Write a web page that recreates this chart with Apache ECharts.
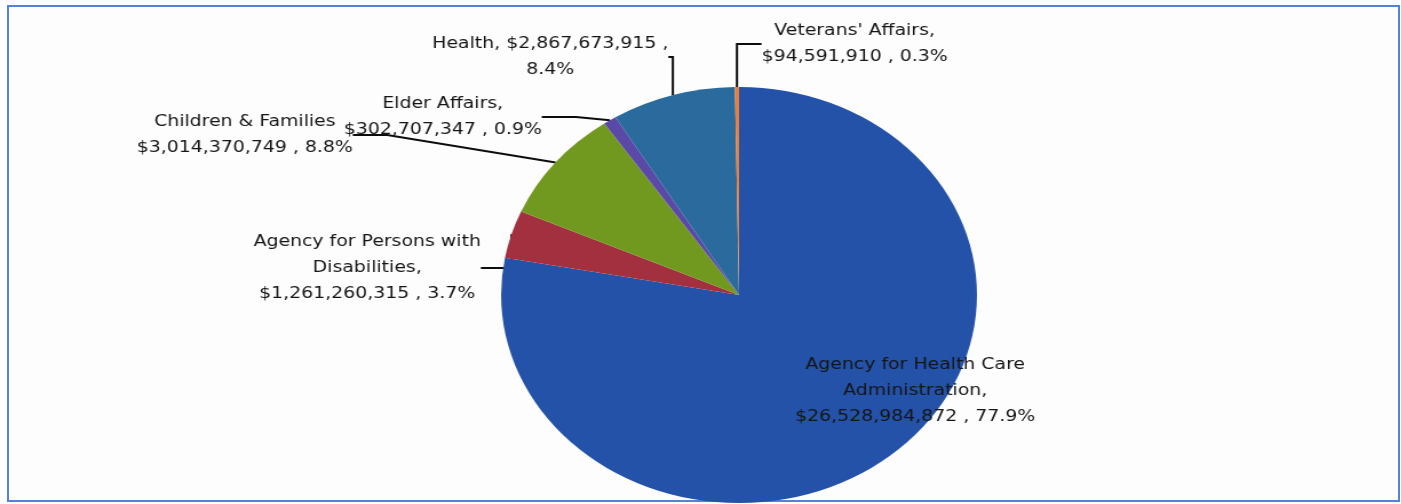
<!DOCTYPE html>
<html>
<head>
<meta charset="UTF-8">
<title>Health and Human Services Appropriations</title>
<script src="https://cdn.jsdelivr.net/npm/echarts@6/dist/echarts.min.js"></script>
<style>
  html, body { margin: 0; padding: 0; background: #fff; }
  #frame { position: absolute; left: 7px; top: 5px; width: 1389px; height: 493px;
           border: 2px solid #5382d6; background: #fdfdfd; }
  #main { position: absolute; left: 0; top: 0; width: 1225px; height: 504px;
          transform: scaleX(1.144); transform-origin: 0 0; }
</style>
</head>
<body>
<div id="frame"></div>
<div id="main"></div>
<script type="text/javascript">
    // agencies, clockwise from 12 o'clock
    var agencies = [
        'Agency for Health Care\nAdministration',
        'Agency for Persons with\nDisabilities',
        'Children & Families',
        'Elder Affairs',
        'Health',
        "Veterans' Affairs"
    ];
    var amounts = [26528984872, 1261260315, 3014370749, 302707347, 2867673915, 94591910];
    var percents = ['77.9%', '3.7%', '8.8%', '0.9%', '8.4%', '0.3%'];
    var colors = ['#2352a8', '#a3303f', '#72991f', '#5b49a8', '#2a6a9c', '#e8803a'];

    // where each label sits (chart coords, before the horizontal stretch)
    var labelXY = [[800, 391], [321, 268], [214, 135], [387, 117], [481, 57], [747, 44]];

    function money(v) {
        return '$' + v.toString().replace(/\B(?=(\d{3})+(?!\d))/g, ',');
    }
    var texts = [
        agencies[0] + ',\n' + money(amounts[0]) + ' , ' + percents[0],
        agencies[1] + ',\n' + money(amounts[1]) + ' , ' + percents[1],
        agencies[2] + '\n' + money(amounts[2]) + ' , ' + percents[2],
        agencies[3] + ',\n' + money(amounts[3]) + ' , ' + percents[3],
        agencies[4] + ', ' + money(amounts[4]) + ' ,\n' + percents[4],
        agencies[5] + ',\n' + money(amounts[5]) + ' , ' + percents[5]
    ];

    var myChart = echarts.init(document.getElementById('main'));

    myChart.setOption({
        animation: false,
        series: [{
            type: 'pie',
            center: [646, 295],
            radius: 208,
            startAngle: 90,
            clockwise: true,
            avoidLabelOverlap: false,
            data: amounts.map(function (v, i) {
                return {
                    value: v,
                    name: agencies[i],
                    itemStyle: { color: colors[i] },
                    labelLine: { show: i !== 0 }
                };
            }),
            label: {
                show: true,
                formatter: function (p) { return texts[p.dataIndex]; },
                color: '#151515',
                fontFamily: 'DejaVu Sans',
                fontSize: 16.5,
                lineHeight: 26,
                align: 'center'
            },
            labelLine: {
                show: true,
                lineStyle: { color: '#0d0d0d', width: 2 }
            },
            labelLayout: function (params) {
                var p = labelXY[params.dataIndex];
                return { x: p[0], y: p[1], align: 'center', verticalAlign: 'middle' };
            }
        }]
    });
</script>
</body>
</html>
